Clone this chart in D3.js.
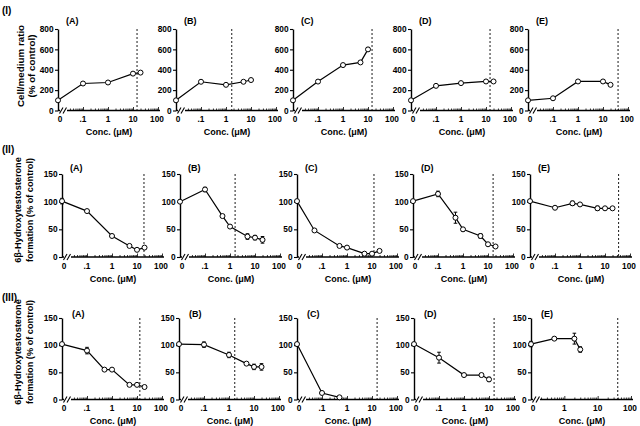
<!DOCTYPE html>
<html><head><meta charset="utf-8">
<script src="https://cdn.jsdelivr.net/npm/d3@7"></script>
<style>body{margin:0;background:#fff}svg{display:block}text{font-family:"Liberation Sans",Arial,sans-serif;font-weight:bold;fill:#000}</style>
</head><body>
<script>
// ---------- data ----------
const rowLabels = ["(I)", "(II)", "(III)"];
const panelLetters = ["(A)", "(B)", "(C)", "(D)", "(E)"];
const yTitles = [
  ["Cell/medium ratio", "(% of control)"],
  ["6β-Hydroxytestosterone", "formation (% of control)"],
  ["6β-Hydroxytestosterone", "formation (% of control)"]
];
const yTicksI = [0, 200, 400, 600, 800];
const yTicksII = [0, 50, 100, 150];
const xTickValues = [0, 0.1, 1, 10, 100];
const xTickLabels = ["0", ".1", "1", "10", "100"];
const xTickValuesWide = [0, 1, 10, 100];
const xTickLabelsWide = ["0", "1", "10", "100"];
const xTitle = "Conc. (μM)";

// Row I: cell/medium ratio
const concI = [
  [0, 0.1, 1, 10, 20],
  [0, 0.1, 1, 5, 10],
  [0, 0.1, 1, 5, 10],
  [0, 0.1, 1, 10, 20],
  [0, 0.1, 1, 10, 20]
];
const valsI = [
  [100, 265, 275, 362, 372],
  [100, 282, 252, 282, 299],
  [100, 284, 446, 472, 600],
  [100, 242, 269, 285, 285],
  [100, 120, 285, 285, 252]
];
const errI = [
  [0, 0, 0, 0, 0],
  [0, 0, 0, 0, 0],
  [0, 0, 0, 0, 18],
  [0, 0, 0, 0, 0],
  [0, 0, 0, 0, 0]
];
const dashI = [14.5, 1.7, 14.5, 14.5, 40];

// Row II: 6β-hydroxytestosterone formation
const concII = [
  [0, 0.1, 1, 5, 10, 20],
  [0, 0.1, 0.5, 1, 5, 10, 20],
  [0, 0.05, 0.5, 1, 5, 10, 20],
  [0, 0.1, 0.5, 1, 5, 10, 20],
  [0, 0.1, 0.5, 1, 5, 10, 20]
];
const valsII = [
  [101, 83, 38, 20, 13, 17],
  [100, 122, 74, 55, 37, 35, 31],
  [101, 48, 20, 17, 6, 6, 11],
  [101, 114, 71, 50, 38, 23, 19],
  [101, 89, 97, 95, 88, 88, 88]
];
const errII = [
  [5, 0, 0, 0, 0, 0],
  [0, 4, 0, 0, 5, 4, 6],
  [0, 0, 0, 0, 0, 0, 0],
  [0, 5, 10, 3, 4, 0, 0],
  [0, 0, 4, 0, 4, 0, 0]
];
const dashII = [19, 1.6, 12, 16, 35];

// Row III
const concIII = [
  [0, 0.1, 0.5, 1, 5, 10, 20],
  [0, 0.1, 1, 5, 10, 20],
  [0, 0.1, 0.5],
  [0, 0.1, 1, 5, 10],
  [0, 0.5, 2, 3]
];
const valsIII = [
  [102, 90, 55, 55, 27, 27, 23],
  [102, 101, 82, 66, 60, 60],
  [102, 12, 4],
  [102, 77, 45, 45, 37],
  [102, 112, 112, 92]
];
const errIII = [
  [0, 6, 0, 0, 0, 0, 0],
  [0, 5, 5, 0, 5, 6],
  [0, 0, 0],
  [0, 10, 0, 3, 4],
  [5, 2, 10, 5]
];
const dashIII = [13, 1.7, 16, 16, 40];

// ---------- layout ----------
const W = 640, H = 426;
const rows = [
  {conc: concI, vals: valsI, err: errI, dash: dashI, yTicks: yTicksI, yMax: 800,
   top: 29, zero: 110.5, axX: [58, 176, 293, 411, 528], labY: 21, titleY: 66, titleX: [21, 32], rowY: 10},
  {conc: concII, vals: valsII, err: errII, dash: dashII, yTicks: yTicksII, yMax: 150,
   top: 174, zero: 257, axX: [62, 180, 297, 413, 530], labY: 168, titleY: 210, titleX: [18, 30], rowY: 149},
  {conc: concIII, vals: valsIII, err: errIII, dash: dashIII, yTicks: yTicksII, yMax: 150,
   top: 318, zero: 399.5, axX: [62, 179, 297, 414, 531], labY: 314, titleY: 352, titleX: [18, 30], rowY: 297}
];

const svg = d3.select("body").append("svg").attr("width", W).attr("height", H);

rows.forEach((row, r) => {
  svg.append("text").attr("x", 2).attr("y", row.rowY).attr("dy", "0.35em")
    .attr("font-size", 10).text(rowLabels[r]);
  // y title
  yTitles[r].forEach((t, i) => {
    svg.append("text")
      .attr("transform", `translate(${row.titleX[i]},${row.titleY}) rotate(-90)`)
      .attr("text-anchor", "middle").attr("dy", "0.35em")
      .attr("font-size", r === 0 ? 9.8 : 9.2).text(t);
  });

  for (let p = 0; p < 5; p++) {
    const ax = row.axX[p];
    const wide = (r === 2 && p === 4);
    const xs = d3.scaleLog().domain(wide ? [0.1, 100] : [0.01, 100]).range([ax, ax + 100]);
    const xf = c => c === 0 ? ax : xs(c);
    const ys = d3.scaleLinear().domain([0, row.yMax]).range([row.zero, row.top]);
    const g = svg.append("g");

    // y axis
    const yAxis = d3.axisLeft(ys).tickValues(row.yTicks).tickSize(3).tickSizeOuter(0).tickPadding(1.5);
    const ya = g.append("g").attr("transform", `translate(${ax},0)`).call(yAxis);
    ya.select(".domain").attr("stroke", "#000").attr("stroke-width", 1.4);
    ya.selectAll(".tick line").attr("stroke", "#000").attr("stroke-width", 1.1);
    ya.selectAll(".tick text").attr("font-size", 8.3).attr("font-family", '"Liberation Sans",Arial,sans-serif')
      .attr("font-weight", "bold").attr("fill", "#000");

    // x axis line with break
    const y0 = row.zero;
    g.append("line").attr("x1", ax).attr("x2", ax + 2).attr("y1", y0).attr("y2", y0)
      .attr("stroke", "#000").attr("stroke-width", 1.4);
    g.append("line").attr("x1", ax + 9).attr("x2", ax + 102).attr("y1", y0).attr("y2", y0)
      .attr("stroke", "#000").attr("stroke-width", 1.4);
    [ax + 3, ax + 6.5].forEach(sx => {
      g.append("line").attr("x1", sx - 1.5).attr("x2", sx + 2).attr("y1", y0 + 3).attr("y2", y0 - 3)
        .attr("stroke", "#000").attr("stroke-width", 1.1);
    });
    // log ticks (inward)
    const minor = xs.ticks().filter(v => xs(v) >= ax + 10);
    const xAxis = d3.axisBottom(xs).tickValues(minor).tickSize(-2).tickSizeOuter(0).tickFormat("");
    const xa = g.append("g").attr("transform", `translate(0,${y0})`).call(xAxis);
    xa.select(".domain").remove();
    xa.selectAll(".tick line").attr("stroke", "#000").attr("stroke-width", 0.8)
      .attr("y2", d => Math.abs(Math.log10(d) - Math.round(Math.log10(d))) < 1e-6 ? -3.5 : -2);

    // x tick labels
    const tv = wide ? xTickValuesWide : xTickValues;
    const tl = wide ? xTickLabelsWide : xTickLabels;
    tv.forEach((v, i) => {
      const px = v === 0 ? ax + 2 : (v === 100 ? xf(v) - 1 : xf(v));
      g.append("text").attr("x", px).attr("y", y0 + 9).attr("dy", "0.35em")
        .attr("text-anchor", "middle").attr("font-size", 8.3).text(tl[i]);
    });
    g.append("text").attr("x", ax + 51).attr("y", y0 + 21.5).attr("dy", "0.35em")
      .attr("text-anchor", "middle").attr("font-size", 9).text(xTitle);

    // panel letter
    g.append("text").attr("x", ax + (r === 2 ? 10 : 8)).attr("y", row.labY).attr("dy", "0.35em")
      .attr("font-size", 9).text(panelLetters[p]);

    // dashed line
    const dx = xs(row.dash[p]);
    g.append("line").attr("x1", dx).attr("x2", dx).attr("y1", row.top).attr("y2", y0)
      .attr("stroke", "#000").attr("stroke-width", 0.9).attr("stroke-dasharray", "2,2");

    // data
    const pts = row.conc[p].map((c, i) => ({c, v: row.vals[p][i], e: row.err[p][i]}));
    g.append("path").datum(pts)
      .attr("d", d3.line().x(d => xf(d.c)).y(d => ys(d.v)))
      .attr("fill", "none").attr("stroke", "#000").attr("stroke-width", 1.2);
    pts.filter(d => d.e > 0).forEach(d => {
      const px = xf(d.c), yt = ys(d.v + d.e), yb = ys(d.v - d.e);
      g.append("line").attr("x1", px).attr("x2", px).attr("y1", yt).attr("y2", yb)
        .attr("stroke", "#000").attr("stroke-width", 1);
      [yt, yb].forEach(yy => g.append("line").attr("x1", px - 1.8).attr("x2", px + 1.8)
        .attr("y1", yy).attr("y2", yy).attr("stroke", "#000").attr("stroke-width", 1));
    });
    g.selectAll("circle.pt").data(pts).enter().append("circle")
      .attr("cx", d => xf(d.c)).attr("cy", d => ys(d.v)).attr("r", 2.5)
      .attr("fill", "#fff").attr("stroke", "#000").attr("stroke-width", 1);
  }
});
</script>
</body></html>
